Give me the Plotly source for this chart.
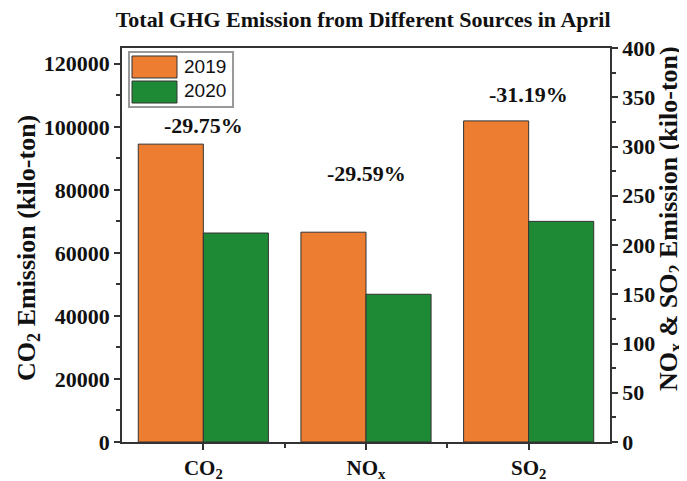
import plotly.graph_objects as go

categories = ["CO<sub>2</sub>", "NO<sub>x</sub>", "SO<sub>2</sub>"]
co2_2019 = [94500]
co2_2020 = [66300]
other_2019 = [213, 326]   # NOx, SO2
other_2020 = [150, 224]
pct_labels = ["-29.75%", "-29.59%", "-31.19%"]
pct_y = [100500, 273, 353]
left_ticks = [0, 20000, 40000, 60000, 80000, 100000, 120000]
right_ticks = [0, 50, 100, 150, 200, 250, 300, 350, 400]
years = ["2019", "2020"]

orange = "#ED7D31"
green = "#1F8A36"
serif = "Times New Roman, Liberation Serif, serif"
sans = "Arial, Liberation Sans, sans-serif"

fig = go.Figure()
common = dict(width=0.4, marker_line=dict(color="#333333", width=1), showlegend=False)
fig.add_bar(x=[0], y=co2_2019, offset=-0.4, marker_color=orange, name=years[0], yaxis="y", **common)
fig.add_bar(x=[0], y=co2_2020, offset=0, marker_color=green, name=years[1], yaxis="y", **common)
fig.add_bar(x=[1, 2], y=other_2019, offset=-0.4, marker_color=orange, name=years[0], yaxis="y2", **common)
fig.add_bar(x=[1, 2], y=other_2020, offset=0, marker_color=green, name=years[1], yaxis="y2", **common)

for i, (t, yy) in enumerate(zip(pct_labels, pct_y)):
    fig.add_annotation(x=i, y=yy, xref="x", yref="y" if i == 0 else "y2",
                       text="<b>%s</b>" % t, showarrow=False,
                       font=dict(family=serif, size=22, color="#111"))

# axis titles
title_font = dict(family=serif, size=26, color="#111")
fig.add_annotation(x=-0.193, y=0.492, xref="paper", yref="paper", textangle=-90,
                   text="<b>CO<sub>2</sub> Emission (kilo-ton)</b>", showarrow=False,
                   xanchor="center", yanchor="middle", font=title_font)
fig.add_annotation(x=1.123, y=0.566, xref="paper", yref="paper", textangle=-90,
                   text="<b>NO<sub>x</sub> & SO<sub>2</sub> Emission (kilo-ton)</b>", showarrow=False,
                   xanchor="center", yanchor="middle", font=title_font)

# legend (drawn box)
fig.add_shape(type="rect", xref="paper", yref="paper", x0=0.0143, x1=0.2275, y0=0.8503, y1=0.9898,
              line=dict(color="#999999", width=2), fillcolor="white")
fig.add_shape(type="rect", xref="paper", yref="paper", x0=0.0205, x1=0.1127, y0=0.9239, y1=0.9797,
              line=dict(color="#333333", width=1), fillcolor=orange)
fig.add_shape(type="rect", xref="paper", yref="paper", x0=0.0205, x1=0.1127, y0=0.8604, y1=0.9162,
              line=dict(color="#333333", width=1), fillcolor=green)
for yv, txt in zip([0.9518, 0.8909], years):
    fig.add_annotation(x=0.123, y=yv, xref="paper", yref="paper", text=txt, showarrow=False,
                       xanchor="left", yanchor="middle",
                       font=dict(family=sans, size=19, color="#111"))

axis_font = dict(family=serif, size=22, color="#111")
fig.update_layout(
    width=679, height=473,
    margin=dict(l=114, r=77, t=40, b=39, autoexpand=False),
    paper_bgcolor="white", plot_bgcolor="white",
    title=dict(text="<b>Total GHG Emission from Different Sources in April</b>",
               x=0.523, xanchor="center", y=0.976, yanchor="middle",
               font=dict(family=serif, size=22, color="#111"), automargin=False),
    showlegend=False,
    xaxis=dict(range=[-0.5, 2.5], tickvals=[0, 1, 2],
               ticktext=["<b>%s</b>" % c for c in categories],
               tickfont=dict(family=serif, size=21, color="#111"),
               ticks="outside", ticklen=6, tickwidth=1.5, tickcolor="#333",
               minor=dict(tickvals=[0.5, 1.5], ticks="outside", ticklen=4,
                          tickwidth=1.5, tickcolor="#333"),
               showline=True, linecolor="#333", linewidth=1.5, mirror=True,
               showgrid=False, zeroline=False, automargin=False),
    yaxis=dict(range=[0, 125000], tickvals=left_ticks,
               ticktext=["<b>%d</b>" % v for v in left_ticks],
               tickfont=axis_font,
               ticks="outside", ticklen=6, tickwidth=1.5, tickcolor="#333",
               minor=dict(dtick=10000, tick0=0, ticks="outside", ticklen=4,
                          tickwidth=1.5, tickcolor="#333"),
               showline=True, linecolor="#333", linewidth=1.5,
               showgrid=False, zeroline=False, automargin=False),
    yaxis2=dict(range=[0, 400], overlaying="y", side="right",
                tickvals=right_ticks,
                ticktext=["<b>%d</b>" % v for v in right_ticks],
                tickfont=axis_font,
                ticks="outside", ticklen=6, tickwidth=1.5, tickcolor="#333",
                minor=dict(dtick=25, tick0=0, ticks="outside", ticklen=4,
                           tickwidth=1.5, tickcolor="#333"),
                showline=True, linecolor="#333", linewidth=1.5,
                showgrid=False, zeroline=False, automargin=False),
)

fig.write_html("out.html")
